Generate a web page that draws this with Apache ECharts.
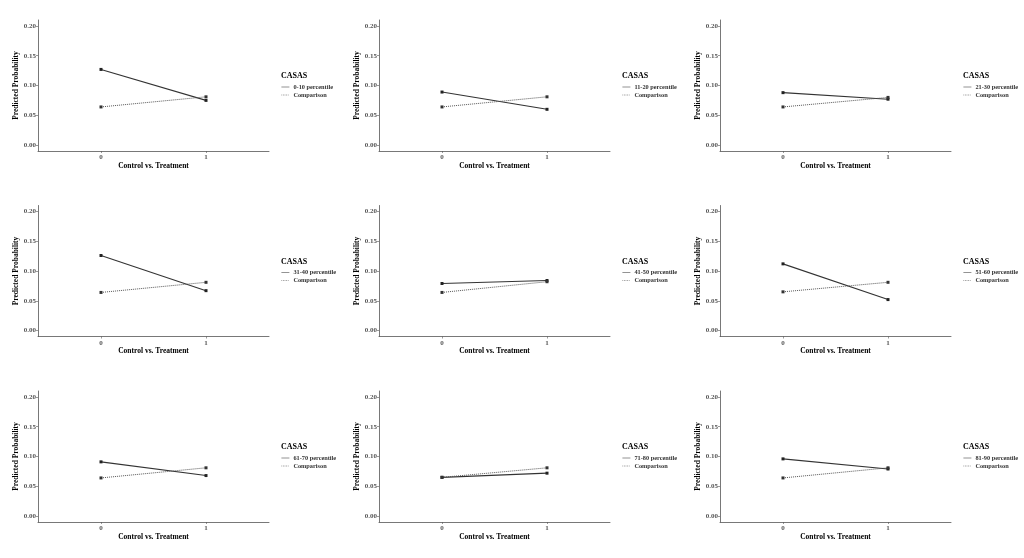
<!DOCTYPE html>
<html><head><meta charset="utf-8">
<script src="https://cdn.jsdelivr.net/npm/echarts@6/dist/echarts.min.js"></script>
<style>html,body{margin:0;padding:0;background:#fff}#c{width:1024px;height:558px}</style>
</head><body><div id="c"></div>
<script>
const groups = ["0-10 percentile","11-20 percentile","21-30 percentile","31-40 percentile","41-50 percentile","51-60 percentile","61-70 percentile","71-80 percentile","81-90 percentile"];
const xValues = [0, 1];
const treatValues = [
  [0.127, 0.075],
  [0.089, 0.060],
  [0.088, 0.077],
  [0.126, 0.067],
  [0.079, 0.084],
  [0.112, 0.052],
  [0.091, 0.068],
  [0.065, 0.072],
  [0.096, 0.079]
];
const compValues = [
  [0.064, 0.081],
  [0.064, 0.081],
  [0.064, 0.080],
  [0.064, 0.081],
  [0.064, 0.082],
  [0.065, 0.081],
  [0.064, 0.081],
  [0.065, 0.081],
  [0.064, 0.081]
];
const yTicks = [0, 0.05, 0.10, 0.15, 0.20];
const xTitle = "Control vs. Treatment";
const yTitle = "Predicted Probability";
const legendTitle = "CASAS";

const FONT = "Liberation Serif";
const grids=[], xAxes=[], yAxes=[], series=[], legends=[], titles=[];
groups.forEach((g,i)=>{
  const c=i%3, r=Math.floor(i/3);
  const left=38+c*341, top=20+r*185.5;
  grids.push({left:left, top:top, width:231, height:131, containLabel:false});
  xAxes.push({type:'value', gridIndex:i, min:-0.6, max:1.6,
    name:xTitle, nameLocation:'middle', nameGap:9,
    nameTextStyle:{fontFamily:FONT, fontWeight:'bold', fontSize:7.5, color:'#000'},
    splitLine:{show:false},
    axisLine:{show:true, onZero:false, lineStyle:{color:'#555', width:0.8}},
    axisTick:{show:true, length:2, customValues:xValues, lineStyle:{color:'#555', width:0.6}},
    axisLabel:{customValues:xValues, fontFamily:FONT, fontWeight:'bold', fontSize:7, color:'#555', margin:3}
  });
  yAxes.push({type:'value', gridIndex:i, min:-0.01, max:0.21,
    name:yTitle, nameLocation:'middle', nameGap:18, nameRotate:90,
    nameTextStyle:{fontFamily:FONT, fontWeight:'bold', fontSize:7.5, color:'#000'},
    splitLine:{show:false},
    axisLine:{show:true, onZero:false, lineStyle:{color:'#555', width:0.8}},
    axisTick:{show:true, length:2, customValues:yTicks, lineStyle:{color:'#555', width:0.6}},
    axisLabel:{customValues:yTicks, fontFamily:FONT, fontWeight:'bold', fontSize:7, color:'#555', margin:2,
      formatter:v=>v.toFixed(2)}
  });
  series.push({type:'line', name:g, xAxisIndex:i, yAxisIndex:i,
    data:xValues.map((x,k)=>[x,treatValues[i][k]]),
    symbol:'rect', symbolSize:3, showSymbol:true,
    lineStyle:{color:'#333', width:1.1, type:'solid'}, itemStyle:{color:'#222'}, animation:false});
  series.push({type:'line', name:'Comparison', xAxisIndex:i, yAxisIndex:i,
    data:xValues.map((x,k)=>[x,compValues[i][k]]),
    symbol:'rect', symbolSize:3, showSymbol:true,
    lineStyle:{color:'#555', width:1, type:'dotted'}, itemStyle:{color:'#333'}, animation:false});
  titles.push({text:legendTitle, left:276+c*341, top:67+r*185.5,
    textStyle:{fontFamily:FONT, fontWeight:'bold', fontSize:8, color:'#000'}});
  legends.push({data:[g,'Comparison'], orient:'vertical', left:276+c*341, top:79+r*185.5,
    itemWidth:8, itemHeight:5, itemGap:2, selectedMode:false,
    itemStyle:{opacity:0},
    lineStyle:{width:0.8, color:'#777'},
    textStyle:{fontFamily:FONT, fontWeight:'bold', fontSize:6.3, color:'#333', padding:[0,0,0,-1]}});
});

const chart=echarts.init(document.getElementById('c'),null,{renderer:'canvas'});
chart.setOption({backgroundColor:'#fff', animation:false, title:titles, legend:legends,
  grid:grids, xAxis:xAxes, yAxis:yAxes, series:series});
</script></body></html>
